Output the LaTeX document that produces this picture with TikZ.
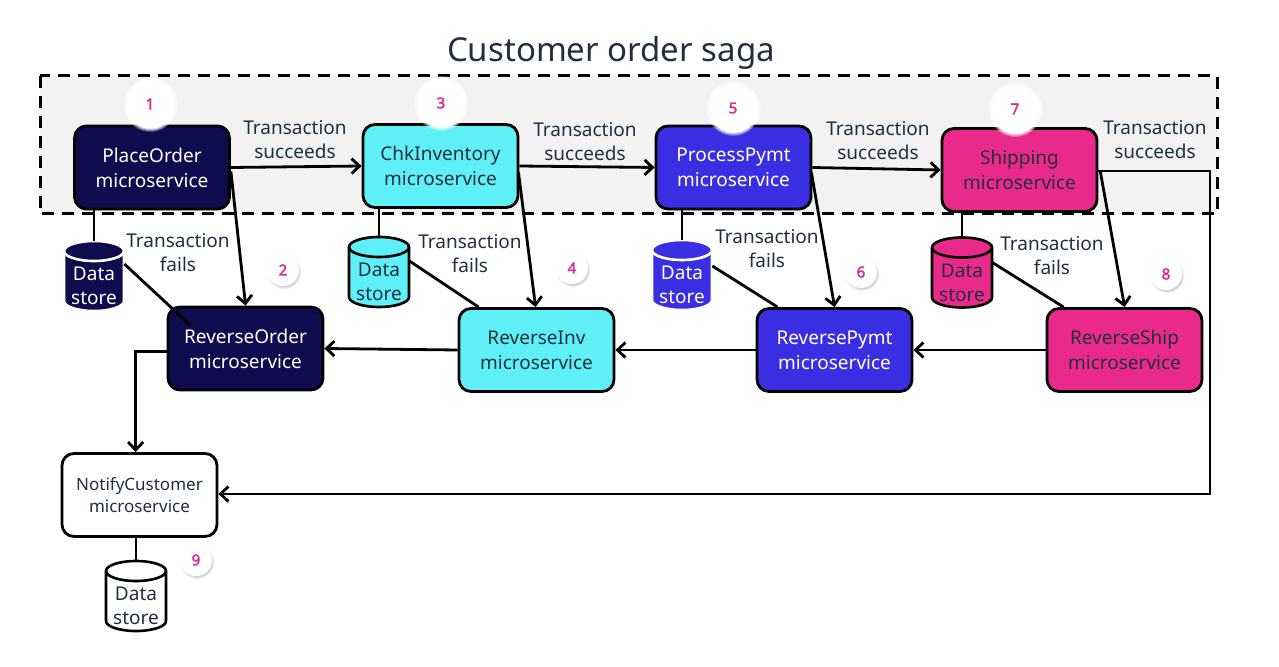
\documentclass[tikz,border=0pt]{standalone}
\usepackage{fontspec}
\setmainfont{Noto Sans}
\newfontfamily\badgefont{Noto Sans}[FakeBold=2.2]
\usetikzlibrary{shadows,arrows.meta,calc}
\definecolor{navy}{HTML}{0E0B4F}
\definecolor{cyanbox}{HTML}{5EF0F6}
\definecolor{bluebox}{HTML}{3A2EE3}
\definecolor{pinkbox}{HTML}{EA2A8B}
\definecolor{ink}{HTML}{232F3E}
\definecolor{badgepink}{HTML}{DD2A8A}
\definecolor{sagabg}{HTML}{F2F2F2}
% cylinder data store: name, x, y, fill, stroke, text colour
\newcommand\dbstore[6]{%
  \path[fill=#4, draw=#5, line width=1.3pt] (#2-30,#3-25) -- (#2-30,#3+25)
    arc[start angle=180, end angle=360, x radius=15pt, y radius=5pt] -- (#2+30,#3-25)
    arc[start angle=0, end angle=180, x radius=15pt, y radius=5pt] -- cycle;
  \draw[draw=#5, line width=1.3pt] (#2-30,#3-25)
    arc[start angle=180, end angle=360, x radius=15pt, y radius=5pt];
  \node[dsbox, label={[align=center, inner sep=0pt, yshift=-5pt, text=#6, font=\fontsize{9.5}{12}\selectfont]center:Data\\store}] (#1) at (#2,#3) {};
}
\begin{document}
\begin{tikzpicture}[x=0.5pt,y=-0.5pt,
  svc/.style={draw=black, line width=1.4pt, rounded corners=6pt, minimum width=77.5pt, minimum height=41.5pt, align=center, inner sep=0pt, font=\fontsize{9.5}{12.5}\selectfont},
  dsbox/.style={rectangle, minimum width=30pt, minimum height=35pt, inner sep=0pt},
  lbl/.style={align=center, text=ink, inner sep=0pt, font=\fontsize{9.5}{12}\selectfont},
  conn/.style={line width=1.4pt, -{Straight Barb[length=4pt,width=7.5pt,line width=1.4pt]}},
  plain/.style={line width=1.4pt},
  badge/.style={circle, fill=white, minimum size=16pt, inner sep=0pt, text=badgepink, font=\badgefont\fontsize{7.5}{9}\selectfont, circular drop shadow={shadow xshift=0.4pt, shadow yshift=-0.8pt, opacity=0.35, shadow scale=1.08}},
  glowbadge/.style={badge, circular glow={fill=white, shadow scale=1.75, opacity=1}}
]
\useasboundingbox (0,0) rectangle (1279,667);
\fill[white] (0,0) rectangle (1279,667);

% saga frame
\node[text=ink, font=\fontsize{16.5}{18}\selectfont] (title) at (611,53) {Customer order saga};
\draw[fill=sagabg, line width=1.5pt, dash pattern=on 6pt off 4pt] (40,76) rectangle (1217,214);

% services
\node[svc, fill=navy, text=white] (po) at (152,167.5) {PlaceOrder\\microservice};
\node[svc, fill=cyanbox, text=ink] (ci) at (440.5,166) {ChkInventory\\microservice};
\node[svc, fill=bluebox, text=white] (pp) at (733.5,167.5) {ProcessPymt\\microservice};
\node[svc, fill=pinkbox, text=ink] (sh) at (1019.5,170) {Shipping\\microservice};

\node[svc, fill=navy, text=white] (ro) at (245.5,348.5) {ReverseOrder\\microservice};
\node[svc, fill=cyanbox, text=ink] (ri) at (536.5,350) {ReverseInv\\microservice};
\node[svc, fill=bluebox, text=white] (rp) at (834.5,350) {ReversePymt\\microservice};
\node[svc, fill=pinkbox, text=ink] (rs) at (1124.5,350) {ReverseShip\\microservice};

\node[svc, fill=white, text=ink, font=\fontsize{8.5}{11}\selectfont] (nc) at (139.5,495) {NotifyCustomer\\microservice};

% data stores
\dbstore{ds1}{94}{276}{navy}{white}{white}
\dbstore{ds2}{379}{272}{cyanbox}{black}{ink}
\dbstore{ds3}{682}{275}{bluebox}{white}{white}
\dbstore{ds4}{962}{272.5}{pinkbox}{black}{ink}
\dbstore{ds9}{136}{596}{white}{black}{ink}

% service to store links
\draw[plain] (po.south -| ds1) -- (ds1.north);
\draw[plain] (ci.south -| ds2) -- (ds2.north);
\draw[plain] (pp.south -| ds3) -- (ds3.north);
\draw[plain] (sh.south -| ds4) -- (ds4.north);
\draw[plain] (nc.south -| ds9) -- (ds9.north);

% success path
\draw[conn] (po.east) -- (ci.west);
\draw[conn] (ci.east) -- (pp.west);
\draw[conn] (pp.east) -- (sh.west);
\coordinate (c1) at (1210,171);
\coordinate (c2) at (1210,494);
\draw[conn] (sh.east |- c1) -- (c1) -- (c2) -- (c2 -| nc.east);

\node[lbl] (l1) at (295,140) {Transaction\\succeeds};
\node[lbl] (l2) at (585,142) {Transaction\\succeeds};
\node[lbl] (l3) at (878,141) {Transaction\\succeeds};
\node[lbl] (l4) at (1155,140) {Transaction\\succeeds};

% failure arrows
\coordinate (f1a) at ($(po.east)+(0,4)$);
\coordinate (f1b) at ($(ro.north west)+(79,0)$);
\draw[conn] (f1a) -- (f1b);
\coordinate (f2a) at ($(ci.east)+(-1,6)$);
\coordinate (f2b) at ($(ri.north west)+(78,0)$);
\draw[conn] (f2a) -- (f2b);
\coordinate (f3a) at ($(pp.east)+(-1,5)$);
\coordinate (f3b) at ($(rp.north west)+(79,0)$);
\draw[conn] (f3a) -- (f3b);
\coordinate (f4a) at ($(sh.east)+(2,2)$);
\coordinate (f4b) at ($(rs.north west)+(79,0)$);
\draw[conn] (f4a) -- (f4b);

% store to reverse links
\draw[plain] ($(ds1.east)+(0,-12)$) -- ($(ro.north west)+(24,20)$);
\draw[plain] ($(ds2.east)+(0,-11)$) -- ($(ri.north west)+(21,0)$);
\draw[plain] ($(ds3.east)+(0,-9)$) -- ($(rp.north west)+(22,0)$);
\draw[plain] ($(ds4.east)+(0,-10)$) -- ($(rs.north west)+(18,0)$);

\node[lbl] (lf1) at (178,253) {Transaction\\fails};
\node[lbl] (lf2) at (470,254) {Transaction\\fails};
\node[lbl] (lf3) at (767,249) {Transaction\\fails};
\node[lbl] (lf4) at (1052,256) {Transaction\\fails};

% compensation chain
\draw[conn] (rs.west) -- (rp.east);
\draw[conn] (rp.west) -- (ri.east);
\draw[conn] (ri.west) -- (ro.east);
\coordinate (c3) at ($(ro.west)+(-31,3)$);
\draw[conn] ($(ro.west)+(0,3)$) -- (c3) -- (c3 |- nc.north);

% badges
\node[glowbadge] (b1) at (150,104) {1};
\node[badge] (b2) at (283,270) {2};
\node[glowbadge] (b3) at (441,103) {3};
\node[badge] (b4) at (572,268) {4};
\node[glowbadge] (b5) at (733,108) {5};
\node[badge] (b6) at (861,272) {6};
\node[glowbadge] (b7) at (1015,109) {7};
\node[badge] (b8) at (1166,274) {8};
\node[badge] (b9) at (196,560) {9};
\end{tikzpicture}
\end{document}
